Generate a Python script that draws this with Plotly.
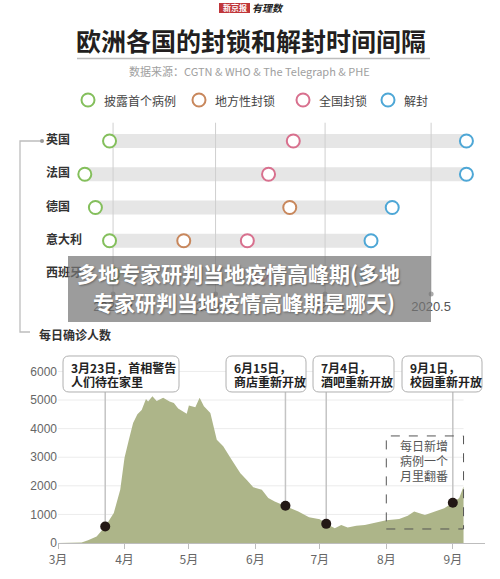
import plotly.graph_objects as go

W, H = 500, 579
def fx(p): return p / W
def fy(p): return 1 - p / H

CJK = "Noto Sans CJK SC"
LAT = "Liberation Sans"

# ---------------- data ----------------
countries = ['英国', '法国', '德国', '意大利', '西班牙']
first_case = ['2020-01-31', '2020-01-24', '2020-01-27', '2020-01-31', '2020-02-01']
regional_lock = [None, None, '2020-03-22', '2020-02-21', None]
national_lock = ['2020-03-23', '2020-03-16', None, '2020-03-10', '2020-03-14']
unlock = ['2020-05-11', '2020-05-11', '2020-04-20', '2020-04-14', '2020-04-13']
timeline_ticks = ['2020-02-01', '2020-03-01', '2020-04-01', '2020-05-01']
timeline_ticklabels = ['2020.2', '2020.3', '2020.4', '2020.5']

legend_labels = ['披露首个病例', '地方性封锁', '全国封锁', '解封']
legend_colors = ['#84bf5c', '#c8875c', '#d8708e', '#4ea7d6']

case_dates = ['2020-03-01', '2020-03-05', '2020-03-09', '2020-03-12', '2020-03-15', '2020-03-19',
              '2020-03-23', '2020-03-27', '2020-03-30', '2020-04-01', '2020-04-03', '2020-04-05',
              '2020-04-07', '2020-04-09', '2020-04-11', '2020-04-12', '2020-04-14', '2020-04-16',
              '2020-04-19', '2020-04-22', '2020-04-24', '2020-04-26', '2020-04-30', '2020-05-01',
              '2020-05-04', '2020-05-06', '2020-05-08', '2020-05-11', '2020-05-14', '2020-05-17',
              '2020-05-21', '2020-05-25', '2020-05-28', '2020-05-31', '2020-06-04', '2020-06-07',
              '2020-06-10', '2020-06-15', '2020-06-17', '2020-06-21', '2020-06-26', '2020-07-01',
              '2020-07-04', '2020-07-08', '2020-07-11', '2020-07-14', '2020-07-18', '2020-07-22',
              '2020-08-01', '2020-08-07', '2020-08-11', '2020-08-14', '2020-08-19', '2020-08-24',
              '2020-08-28', '2020-09-01', '2020-09-04', '2020-09-06']
case_values = [0, 0, 5, 20, 100, 230,
               580, 1050, 1860, 2980, 3600, 4200,
               4500, 4650, 5040, 4950, 5130, 4970,
               5080, 4950, 4900, 4700, 4520, 4810,
               4750, 5080, 4780, 4550, 3610, 3380,
               2900, 2440, 2200, 1950, 1860, 1570,
               1450, 1300, 1240, 1100, 900, 830,
               670, 520, 630, 540, 600, 630,
               800, 840, 950, 1100, 980, 1100,
               1215, 1410, 1570, 1980]

event_dates = ['2020-03-23', '2020-06-15', '2020-07-04', '2020-09-01']
event_values = [580, 1300, 670, 1410]
callout_line1 = ['3月23日，首相警告', '6月15日，', '7月4日，', '9月1日，']
callout_line2 = ['人们待在家里', '商店重新开放', '酒吧重新开放', '校园重新开放']
y_ticks = [0, 1000, 2000, 3000, 4000, 5000, 6000]
month_ticks = ['2020-03-01', '2020-04-01', '2020-05-01', '2020-06-01', '2020-07-01', '2020-08-01', '2020-09-01']
month_labels = ['3月', '4月', '5月', '6月', '7月', '8月', '9月']
doubling_text = ['每日新增', '病例一个', '月里翻番']

fig = go.Figure()

# ---------------- top timeline ----------------
rows = list(range(len(countries)))
for i in rows:
    ds = [d for d in (first_case[i], regional_lock[i], national_lock[i], unlock[i]) if d]
    fig.add_trace(go.Scatter(x=[min(ds), max(ds)], y=[i, i], mode='lines',
                             line=dict(color='#e6e6e6', width=14), hoverinfo='skip',
                             xaxis='x', yaxis='y', showlegend=False))
for t in timeline_ticks:
    fig.add_trace(go.Scatter(x=[t, t], y=[-0.55, 4.6], mode='lines',
                             line=dict(color='#cfcfcf', width=1), hoverinfo='skip',
                             xaxis='x', yaxis='y', showlegend=False))
fig.add_trace(go.Scatter(x=timeline_ticks, y=[4.6] * 4, mode='markers',
                         marker=dict(color='#aaaaaa', size=5), hoverinfo='skip',
                         xaxis='x', yaxis='y', showlegend=False))
fig.add_trace(go.Scatter(x=timeline_ticks, y=[5.02] * 4, mode='text', text=timeline_ticklabels,
                         textfont=dict(family=LAT, size=13, color='#555'), hoverinfo='skip',
                         xaxis='x', yaxis='y', showlegend=False, cliponaxis=False))
for series, col in zip([first_case, regional_lock, national_lock, unlock], legend_colors):
    xs = [d for d in series if d]
    ys = [i for i, d in enumerate(series) if d]
    fig.add_trace(go.Scatter(x=xs, y=ys, mode='markers',
                             marker=dict(size=13, color='white', line=dict(color=col, width=2)),
                             hoverinfo='skip', xaxis='x', yaxis='y', showlegend=False))
fig.add_trace(go.Scatter(x=['2020-01-13'] * len(countries), y=rows, mode='text',
                         text=['<b>%s</b>' % c for c in countries], textposition='middle right',
                         textfont=dict(family=CJK, size=12, color='#333'), hoverinfo='skip',
                         xaxis='x', yaxis='y', showlegend=False, cliponaxis=False))

# ---------------- bottom area chart ----------------
fig.add_trace(go.Scatter(x=case_dates, y=case_values, mode='lines', fill='tozeroy',
                         fillcolor='#adb589', line=dict(width=0, color='#adb589'),
                         hoverinfo='skip', xaxis='x2', yaxis='y2', showlegend=False))
callout_base = 5280
for d, v in zip(event_dates, event_values):
    fig.add_trace(go.Scatter(x=[d, d], y=[v, callout_base], mode='lines',
                             line=dict(color='#c4c4c4', width=1.5), hoverinfo='skip',
                             xaxis='x2', yaxis='y2', showlegend=False))
fig.add_trace(go.Scatter(x=event_dates, y=event_values, mode='markers',
                         marker=dict(color='#231815', size=10), hoverinfo='skip',
                         xaxis='x2', yaxis='y2', showlegend=False))

shapes = []
annotations = []

# horizontal gridlines of the bottom chart (end where the data ends)
for v in y_ticks[1:]:
    shapes.append(dict(type='line', xref='x2', yref='y2', x0=case_dates[0], x1=case_dates[-1], y0=v, y1=v,
                       line=dict(color='#ececec', width=1), layer='below'))

def ann(text, x, y, size, color, xanchor='center', family=CJK, **kw):
    d = dict(text=text, x=fx(x), y=fy(y), xref='paper', yref='paper', xanchor=xanchor,
             yanchor='middle', showarrow=False, font=dict(family=family, size=size, color=color))
    d['font'].update(kw)
    annotations.append(d)

# logo
shapes.append(dict(type='rect', xref='paper', yref='paper', x0=fx(219), x1=fx(250), y0=fy(13), y1=fy(3),
                   fillcolor='#c0363a', line=dict(width=0)))
ann('<b>新京报</b>', 234.5, 8, 8, 'white')
ann('<i><b>有理数</b></i>', 268, 8, 10, '#222')
# title
ann('<b>欧洲各国的封锁和解封时间间隔</b>', 251, 40, 25, '#231f20')
shapes.append(dict(type='line', xref='paper', yref='paper', x0=fx(77), x1=fx(430), y0=fy(58.5), y1=fy(58.5),
                   line=dict(color='#bdbdbd', width=1.5)))
ann('数据来源：CGTN & WHO & The Telegraph & PHE', 249, 71, 11, '#a0a0a0')
# legend
leg_x = [88, 199, 303, 388]
for lx, lab, col in zip(leg_x, legend_labels, legend_colors):
    shapes.append(dict(type='circle', xref='paper', yref='paper', x0=fx(lx - 6.5), x1=fx(lx + 6.5),
                       y0=fy(100 + 6.5), y1=fy(100 - 6.5), line=dict(color=col, width=2),
                       fillcolor='white'))
    ann(lab, lx + 14, 100, 12, '#444', xanchor='left')
# bracket
shapes.append(dict(type='path', xref='paper', yref='paper',
                   path='M %f,%f L %f,%f L %f,%f L %f,%f' % (fx(42), fy(141), fx(20), fy(141), fx(20), fy(332),
                                                             fx(30), fy(332)),
                   line=dict(color='#bdbdbd', width=1.3)))
shapes.append(dict(type='circle', xref='paper', yref='paper', x0=fx(40), x1=fx(44), y0=fy(143), y1=fy(139),
                   fillcolor='#999', line=dict(width=0)))
ann('<b>每日确诊人数</b>', 37, 334, 12, '#333', xanchor='left')

# overlay banner
shapes.append(dict(type='rect', xref='paper', yref='paper', x0=fx(68), x1=fx(431), y0=fy(322), y1=fy(256),
                   fillcolor='rgba(118,118,118,0.72)', line=dict(width=0), layer='above'))
ann('<b>多地专家研判当地疫情高峰期(多地</b>', 238, 273, 21, 'white', shadow='1px 1px 2px rgba(0,0,0,0.35)')
ann('<b>专家研判当地疫情高峰期是哪天)</b>', 244, 302, 21, 'white', shadow='1px 1px 2px rgba(0,0,0,0.35)')

# callout boxes
boxes = [(63, 179), (226, 306), (313, 394), (402, 482)]
by0, by1, r = 356, 392, 6
rx, ry = r / W, r / H
for (bx0, bx1), t1, t2 in zip(boxes, callout_line1, callout_line2):
    X0, X1, Y0, Y1 = fx(bx0), fx(bx1), fy(by1), fy(by0)
    path = ('M %f,%f L %f,%f Q %f,%f %f,%f L %f,%f Q %f,%f %f,%f L %f,%f Q %f,%f %f,%f L %f,%f Q %f,%f %f,%f Z'
            % (X0 + rx, Y0, X1 - rx, Y0, X1, Y0, X1, Y0 + ry, X1, Y1 - ry, X1, Y1, X1 - rx, Y1,
               X0 + rx, Y1, X0, Y1, X0, Y1 - ry, X0, Y0 + ry, X0, Y0, X0 + rx, Y0))
    shapes.append(dict(type='path', xref='paper', yref='paper', path=path, fillcolor='white',
                       line=dict(color='#b0b0b0', width=1), layer='above'))
    ann('<b>%s</b>' % t1, bx0 + 6, 367, 12, '#222', xanchor='left')
    ann('<b>%s</b>' % t2, bx0 + 6, 381, 12, '#222', xanchor='left')

# dashed box
shapes.append(dict(type='rect', xref='x2', yref='y2', x0='2020-08-01', x1='2020-09-06', y0=490, y1=3744,
                   line=dict(color='#555', width=1, dash='dash'), fillcolor='rgba(0,0,0,0)', layer='above'))
for k, t in enumerate(doubling_text):
    ann(t, 398, 445 + 15 * k, 12, '#555', xanchor='left')

fig.update_layout(
    width=W, height=579, autosize=False,
    margin=dict(l=0, r=0, t=0, b=0, pad=0, autoexpand=False),
    paper_bgcolor='white', plot_bgcolor='rgba(0,0,0,0)',
    showlegend=False,
    shapes=shapes, annotations=annotations,
    xaxis=dict(domain=[0, 1], range=['2019-12-31', '2020-05-20 12:00'], type='date', visible=False,
               anchor='y', fixedrange=True, automargin=False),
    yaxis=dict(domain=[fy(320), fy(115)], range=[5.383, -0.782], visible=False, anchor='x',
               automargin=False),
    xaxis2=dict(domain=[fx(58), fx(485)], range=['2020-03-01', '2020-09-16'], type='date', anchor='y2',
                tickvals=month_ticks, ticktext=month_labels, ticks='outside', ticklen=5,
                tickcolor='#bdbdbd', showline=True, linecolor='#bdbdbd', linewidth=1.3, showgrid=False,
                tickfont=dict(family=CJK, size=12, color='#666'), zeroline=False, automargin=False),
    yaxis2=dict(domain=[fy(543), fy(360)], range=[0, 6400], anchor='x2', tickvals=y_ticks,
                showgrid=False, zeroline=False, showline=False,
                tickfont=dict(family=LAT, size=12, color='#666'), ticks='', automargin=False),
)

fig.write_html("out.html")
